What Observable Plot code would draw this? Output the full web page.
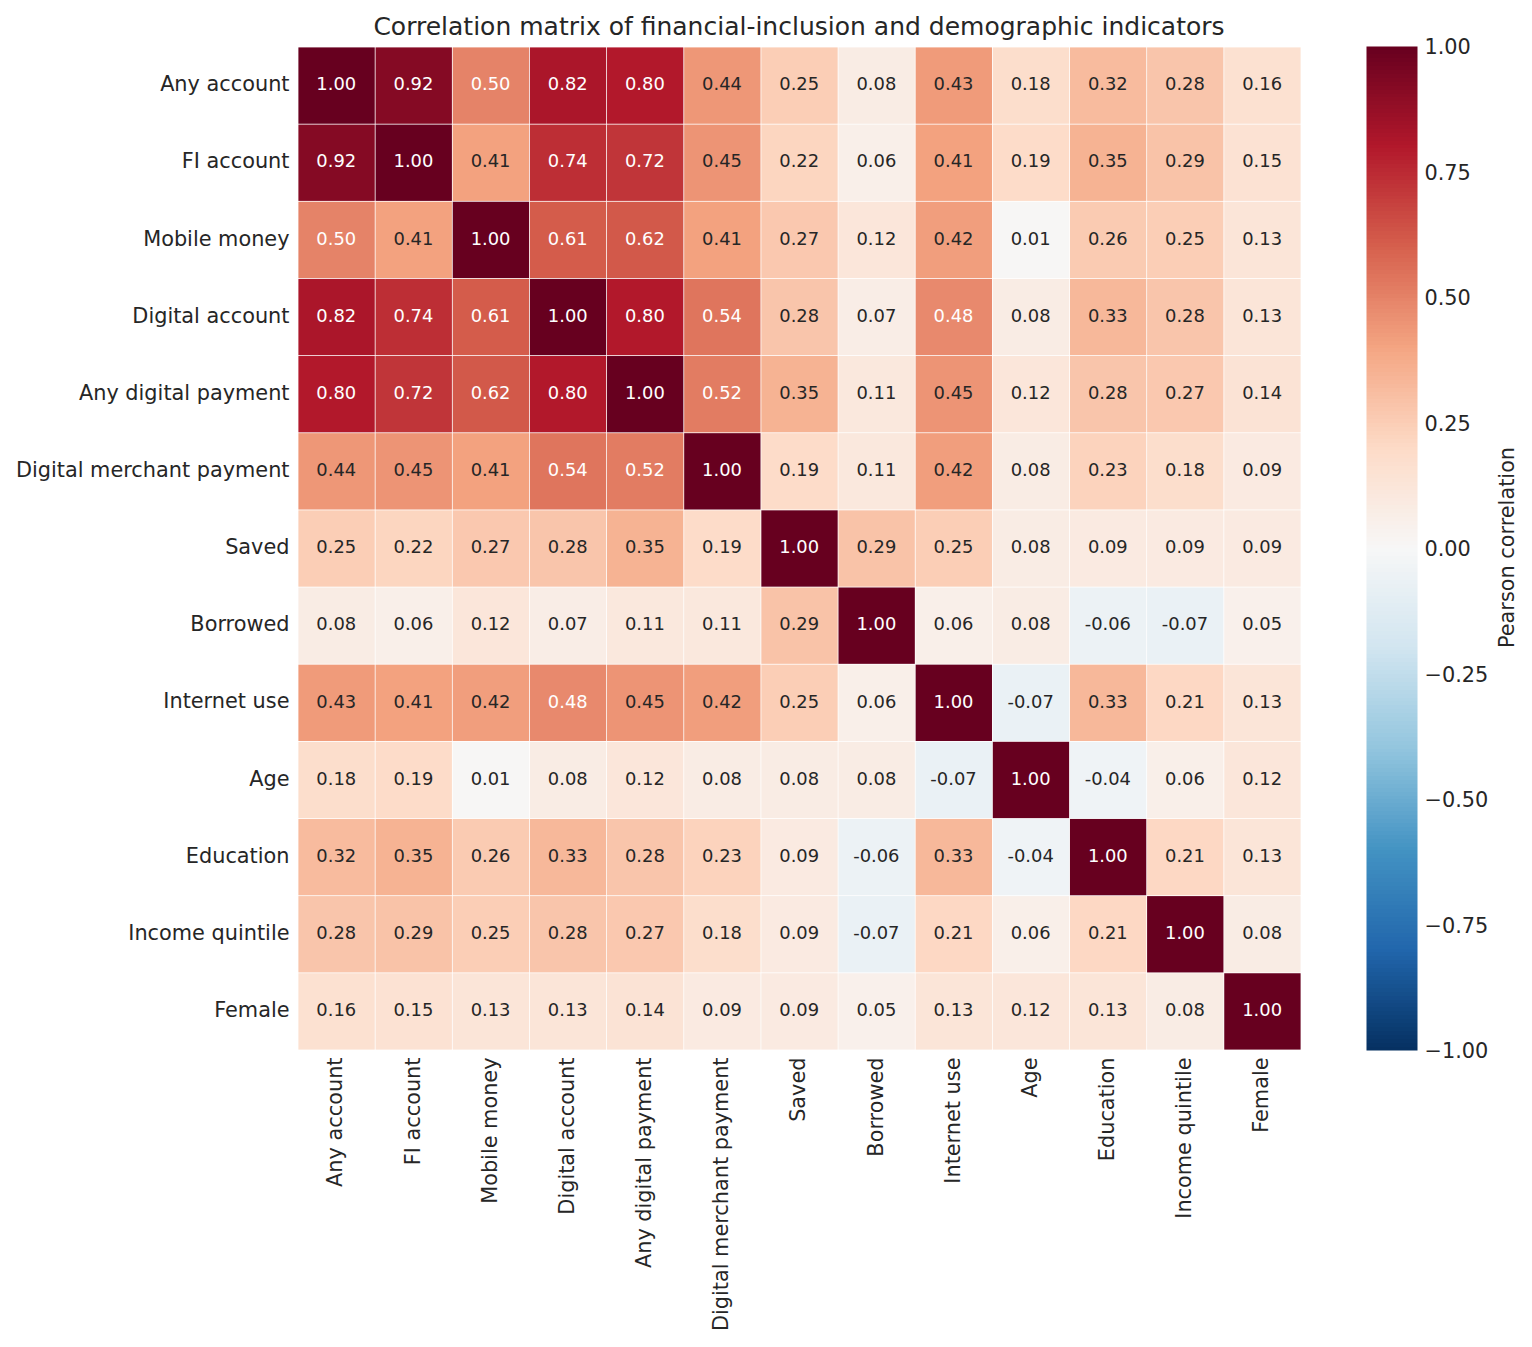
<!DOCTYPE html>
<html>
<head>
<meta charset="utf-8">
<script src="https://cdn.jsdelivr.net/npm/d3@7"></script>
<script src="https://cdn.jsdelivr.net/npm/@observablehq/plot@0.6"></script>
<style>
  html, body { margin: 0; padding: 0; background: #fff; }
  #page { position: relative; width: 1532px; height: 1347px; overflow: hidden; font-family: "DejaVu Sans", sans-serif; }
  #title { position: absolute; left: 0; top: 12px; width: 1598px; text-align: center; font-size: 25px; line-height: 30px; color: #262626; white-space: nowrap; }
  #heat { position: absolute; left: 0; top: 0; }
  #bar { position: absolute; left: 1310px; top: 0; }
</style>
</head>
<body>
<div id="page">
  <div id="title">Correlation matrix of financial-inclusion and demographic indicators</div>
  <div id="heat"></div>
  <div id="bar"></div>
</div>
<script>
const indicators = ["Any account","FI account","Mobile money","Digital account","Any digital payment","Digital merchant payment","Saved","Borrowed","Internet use","Age","Education","Income quintile","Female"];

const anyAccount      = [1.00,0.92,0.50,0.82,0.80,0.44,0.25,0.08,0.43,0.18,0.32,0.28,0.16];
const fiAccount       = [0.92,1.00,0.41,0.74,0.72,0.45,0.22,0.06,0.41,0.19,0.35,0.29,0.15];
const mobileMoney     = [0.50,0.41,1.00,0.61,0.62,0.41,0.27,0.12,0.42,0.01,0.26,0.25,0.13];
const digitalAccount  = [0.82,0.74,0.61,1.00,0.80,0.54,0.28,0.07,0.48,0.08,0.33,0.28,0.13];
const anyDigitalPay   = [0.80,0.72,0.62,0.80,1.00,0.52,0.35,0.11,0.45,0.12,0.28,0.27,0.14];
const merchantPay     = [0.44,0.45,0.41,0.54,0.52,1.00,0.19,0.11,0.42,0.08,0.23,0.18,0.09];
const saved           = [0.25,0.22,0.27,0.28,0.35,0.19,1.00,0.29,0.25,0.08,0.09,0.09,0.09];
const borrowed        = [0.08,0.06,0.12,0.07,0.11,0.11,0.29,1.00,0.06,0.08,-0.06,-0.07,0.05];
const internetUse     = [0.43,0.41,0.42,0.48,0.45,0.42,0.25,0.06,1.00,-0.07,0.33,0.21,0.13];
const age             = [0.18,0.19,0.01,0.08,0.12,0.08,0.08,0.08,-0.07,1.00,-0.04,0.06,0.12];
const education       = [0.32,0.35,0.26,0.33,0.28,0.23,0.09,-0.06,0.33,-0.04,1.00,0.21,0.13];
const incomeQuintile  = [0.28,0.29,0.25,0.28,0.27,0.18,0.09,-0.07,0.21,0.06,0.21,1.00,0.08];
const female          = [0.16,0.15,0.13,0.13,0.14,0.09,0.09,0.05,0.13,0.12,0.13,0.08,1.00];

const rows = [anyAccount,fiAccount,mobileMoney,digitalAccount,anyDigitalPay,merchantPay,saved,borrowed,internetUse,age,education,incomeQuintile,female];

const colorStops = [-1,-0.8,-0.6,-0.4,-0.2,0,0.2,0.4,0.6,0.8,1];
const colorRange = ["#053061","#2166ac","#4393c3","#92c5de","#d1e5f0","#f7f7f7","#fddbc7","#f4a582","#d6604d","#b2182b","#67001f"];
const barTicks = [-1,-0.75,-0.5,-0.25,0,0.25,0.5,0.75,1];

const color = {type: "linear", domain: colorStops, range: colorRange, interpolate: "rgb"};
const font = "DejaVu Sans";
const ink = "#262626";

const cells = rows.flatMap((r, i) => r.map((v, j) => ({row: indicators[i], col: indicators[j], v})));
const light = d => d.v >= 0.47;

const heat = Plot.plot({
  width: 1310, height: 1347,
  marginLeft: 298, marginRight: 9, marginTop: 47, marginBottom: 297,
  style: {fontFamily: font, background: "transparent"},
  x: {domain: indicators, padding: 0, round: false, label: null},
  y: {domain: indicators, padding: 0, round: false, label: null},
  color,
  marks: [
    Plot.cell(cells, {x: "col", y: "row", fill: "v", inset: 0.4}),
    Plot.text(cells, {filter: light, x: "col", y: "row", text: d => d.v.toFixed(2), fill: "white", fontSize: 17.9, dx: -0.8, dy: -1.5}),
    Plot.text(cells, {filter: d => !light(d), x: "col", y: "row", text: d => d.v.toFixed(2), fill: ink, fontSize: 17.9, dx: -0.8, dy: -1.5}),
    Plot.axisY({anchor: "left", tickSize: 0, tickPadding: 9, fontSize: 20.83, color: ink, label: null, lineWidth: 30, dy: -1.5}),
    Plot.axisX({anchor: "bottom", tickSize: 0, tickPadding: 7, tickRotate: -90, fontSize: 20.83, color: ink, label: null, lineWidth: 30, dx: -1.3})
  ]
});
document.getElementById("heat").appendChild(heat);

const bar = Plot.plot({
  width: 222, height: 1347,
  marginLeft: 56, marginRight: 115, marginTop: 46, marginBottom: 297,
  style: {fontFamily: font, background: "transparent"},
  x: {domain: [0, 1], axis: null},
  y: {domain: [-1, 1]},
  color,
  marks: [
    Plot.raster({x1: 0, x2: 1, y1: -1, y2: 1, width: 1, height: 256, fill: (x, y) => y, imageRendering: "pixelated"}),
    Plot.axisY({anchor: "right", ticks: barTicks, tickSize: 0, tickPadding: 7, fontSize: 20.83, color: ink, dy: 1,
      tickFormat: d => (d < 0 ? "\u2212" : "") + Math.abs(d).toFixed(2),
      label: null}),
    Plot.text(["Pearson correlation"], {frameAnchor: "right", text: d => d, rotate: -90, dx: 90, dy: -1, fontSize: 20.83, fill: ink, lineAnchor: "middle", textAnchor: "middle"})
  ]
});
document.getElementById("bar").appendChild(bar);
</script>
</body>
</html>
